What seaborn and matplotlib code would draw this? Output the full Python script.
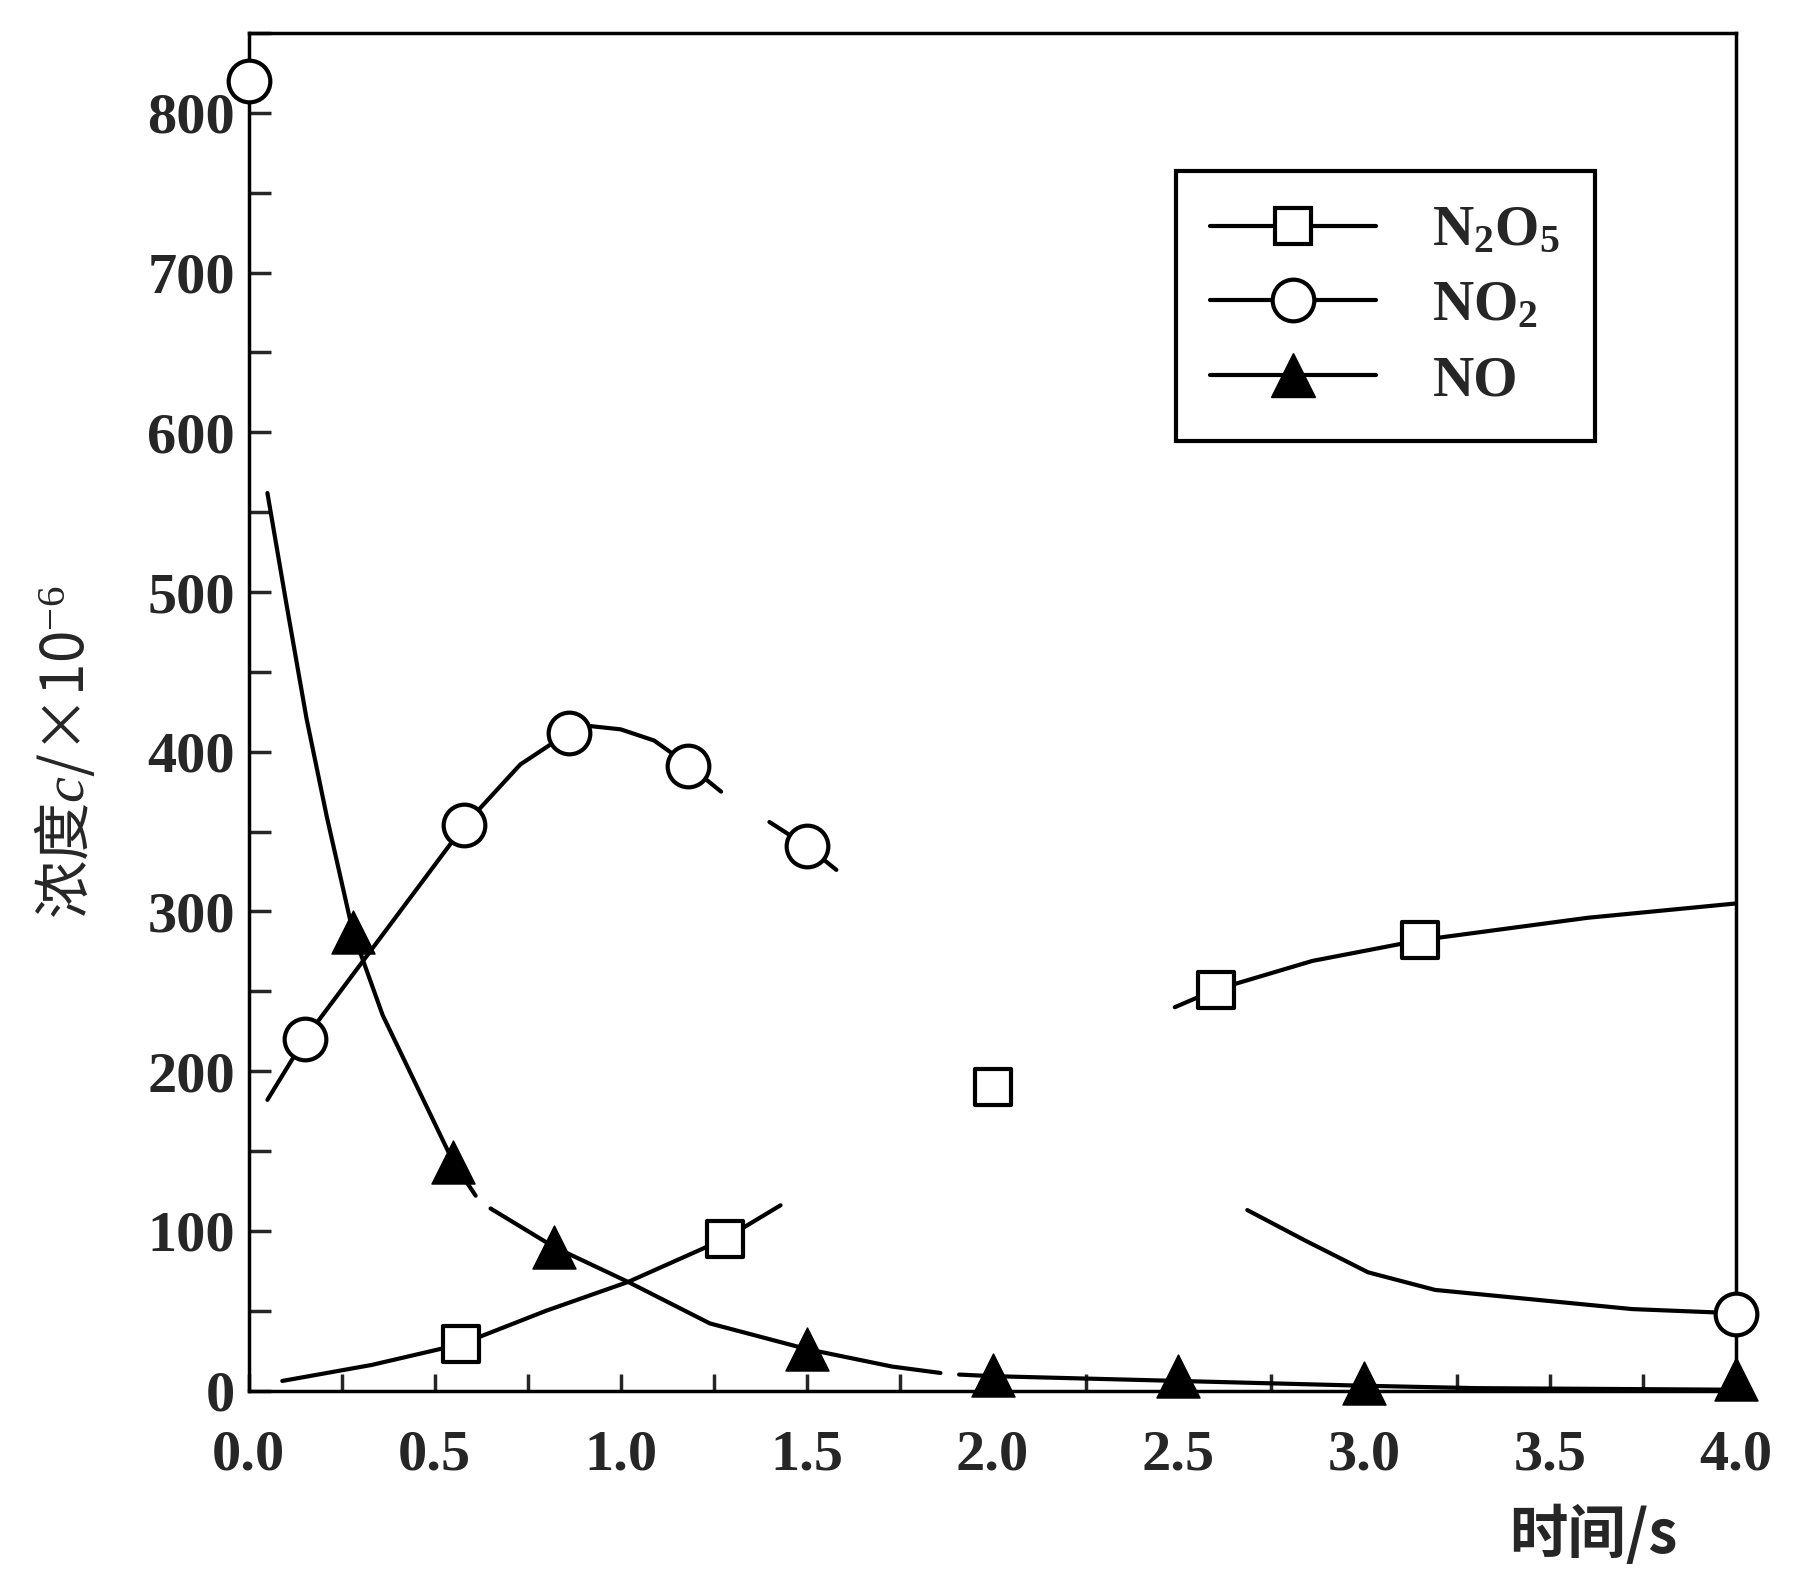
import pandas as pd
import seaborn as sns
import matplotlib.pyplot as plt
from matplotlib.lines import Line2D
from matplotlib.ticker import MultipleLocator

# marker readings: time (s) and concentration (x10^-6)
t_n2o5 = [0.57, 1.28, 2.0, 2.6, 3.15]
c_n2o5 = [29, 95, 190, 251, 282]

t_no2 = [0.0, 0.15, 0.58, 0.86, 1.18, 1.5, 4.0]
c_no2 = [820, 220, 354, 412, 391, 341, 48]

t_no = [0.28, 0.55, 0.82, 1.5, 2.0, 2.5, 3.0, 4.0]
c_no = [287, 143, 90, 26, 10, 9, 5, 7]

# curve traces as printed (broken where the printed curve has gaps)
n2o5_line_t = [0.09, 0.33, 0.57, 0.80, 1.02, 1.28, 1.43,
               2.49, 2.6, 2.86, 3.15, 3.6, 4.0]
n2o5_line_c = [6, 16, 29, 50, 68, 95, 116,
               240, 251, 269, 282, 296, 305]
n2o5_line_seg = [0] * 7 + [1] * 6

no2_line_t = [0.05, 0.15, 0.58, 0.73, 0.86, 0.92, 1.0, 1.09, 1.18, 1.27,
              1.40, 1.5, 1.58,
              2.685, 2.84, 3.01, 3.19, 3.455, 3.72, 3.935, 4.0]
no2_line_c = [182, 220, 354, 392, 412, 416, 414, 407, 392, 375,
              356, 341, 326,
              113, 94, 74, 63, 57, 51, 49, 48]
no2_line_seg = [0] * 10 + [1] * 3 + [2] * 8

no_line_t = [0.05, 0.10, 0.155, 0.21, 0.28, 0.36, 0.55, 0.61,
             0.65, 0.82, 1.02, 1.24, 1.5, 1.73, 1.86,
             1.91, 2.0, 2.5, 3.0, 3.3, 4.0]
no_line_c = [562, 494, 421, 359, 287, 235, 143, 122,
             114, 90, 68, 42, 26, 15, 11,
             10, 9, 6, 3, 1.5, 0.5]
no_line_seg = [0] * 8 + [1] * 7 + [2] * 6

sns.set_style("white")
plt.rcParams['font.family'] = ['Liberation Serif', 'Noto Sans CJK SC', 'DejaVu Sans']
plt.rcParams['mathtext.fontset'] = 'custom'
plt.rcParams['mathtext.rm'] = 'Liberation Serif'
plt.rcParams['mathtext.it'] = 'Liberation Serif:italic'
plt.rcParams['mathtext.bf'] = 'Liberation Serif:bold'

fig = plt.figure(figsize=(18.03, 15.73), dpi=100)
ax = fig.add_axes([0.138, 0.116, 0.825, 0.863])

lines = {
    'N2O5': (n2o5_line_t, n2o5_line_c, n2o5_line_seg),
    'NO2': (no2_line_t, no2_line_c, no2_line_seg),
    'NO': (no_line_t, no_line_c, no_line_seg),
}
for name, (t, c, seg) in lines.items():
    df = pd.DataFrame({'t': t, 'c': c, 'seg': seg})
    sns.lineplot(data=df, x='t', y='c', units='seg', estimator=None, sort=False,
                 color='black', lw=3, legend=False, ax=ax)

sns.scatterplot(x=t_n2o5, y=c_n2o5, marker='s', s=26**2, color='white',
                edgecolor='black', linewidth=3, zorder=4, clip_on=False, ax=ax)
sns.scatterplot(x=t_no2, y=c_no2, marker='o', s=30**2, color='white',
                edgecolor='black', linewidth=3, zorder=4, clip_on=False, ax=ax)
sns.scatterplot(x=t_no, y=c_no, marker='^', s=31**2, color='black',
                edgecolor='black', linewidth=1, zorder=4, clip_on=False, ax=ax)

ax.set_xlim(0, 4.0)
ax.set_ylim(0, 850)
ax.xaxis.set_major_locator(MultipleLocator(0.5))
ax.xaxis.set_minor_locator(MultipleLocator(0.25))
ax.yaxis.set_major_locator(MultipleLocator(100))
ax.yaxis.set_minor_locator(MultipleLocator(50))
ax.set_yticks(range(0, 801, 100))
ax.set_xticklabels([f'{v:.1f}' for v in ax.get_xticks()])
ax.tick_params(axis='x', which='both', direction='in', length=12, width=2.5,
               pad=28, labelsize=42, top=False, bottom=True)
ax.tick_params(axis='y', which='both', direction='in', length=16, width=2.5,
               pad=10, labelsize=42, right=False, left=True)
for lab in ax.get_xticklabels() + ax.get_yticklabels():
    lab.set_fontweight('bold')
for sp in ax.spines.values():
    sp.set_color('black')
    sp.set_linewidth(2.5)

ax.set_xlabel('时间/s', fontsize=42, fontweight='bold',
              family=['Noto Sans CJK SC', 'DejaVu Sans'])
ax.xaxis.set_label_coords(0.904, -0.085)
ax.set_ylabel('浓度$c$/×10$^{-6}$', fontsize=42,
              family=['Noto Sans CJK SC', 'DejaVu Sans'])
ax.yaxis.set_label_coords(-0.1015, 0.47)

handles = [
    Line2D([], [], color='black', lw=3, marker='s', markersize=26,
           markerfacecolor='white', markeredgecolor='black', markeredgewidth=3),
    Line2D([], [], color='black', lw=3, marker='o', markersize=30,
           markerfacecolor='white', markeredgecolor='black', markeredgewidth=3),
    Line2D([], [], color='black', lw=3, marker='^', markersize=31,
           markerfacecolor='black', markeredgecolor='black'),
]
labels = [r'N$_\mathbf{2}$O$_\mathbf{5}$', r'NO$_\mathbf{2}$', 'NO']
leg = ax.legend(handles, labels, loc='upper right', bbox_to_anchor=(0.924, 0.919),
                frameon=True, fancybox=False, edgecolor='black', framealpha=1,
                handlelength=2.9, handletextpad=1.0, labelspacing=0.4, borderpad=0.6,
                prop={'family': 'Liberation Serif', 'weight': 'bold', 'size': 41})
leg.get_frame().set_linewidth(3)

plt.savefig('out.png', dpi=100)
plt.close()
